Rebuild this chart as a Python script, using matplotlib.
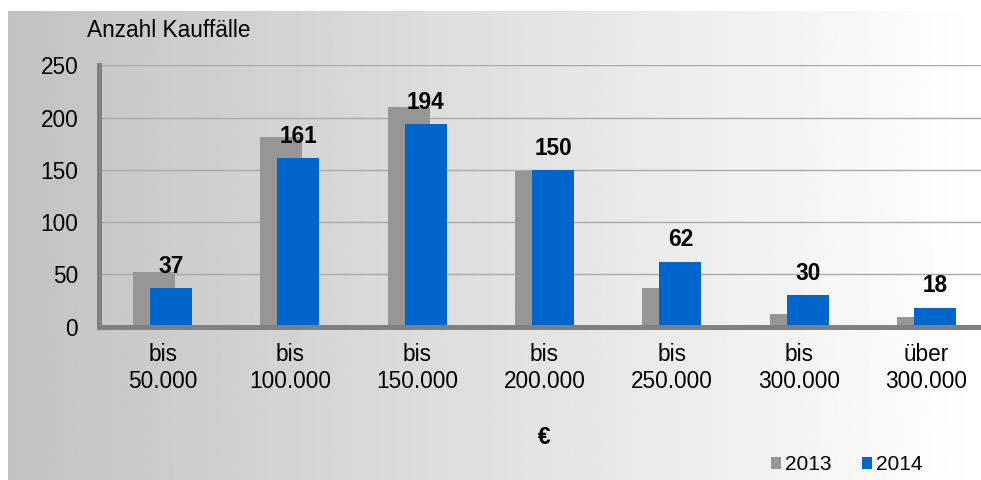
import numpy as np
import matplotlib
matplotlib.use("Agg")
import matplotlib.pyplot as plt
from matplotlib.patches import Patch

categories = ["bis\n50.000", "bis\n100.000", "bis\n150.000", "bis\n200.000",
              "bis\n250.000", "bis\n300.000", "über\n300.000"]
values_2013 = [52, 181, 210, 149, 37, 12, 9]
values_2014 = [37, 161, 194, 150, 62, 30, 18]
series_names = ["2013", "2014"]
yticks = [0, 50, 100, 150, 200, 250]

plt.rcParams['font.family'] = ['Liberation Sans', 'DejaVu Sans']

W, H = 981, 480
fig = plt.figure(figsize=(W / 100, H / 100), dpi=100)
fig.patch.set_facecolor("white")

# gradient background
bg = fig.add_axes([8 / W, 0, (W - 8) / W, (H - 11) / H], zorder=-10)
grad = np.linspace(0.76, 1.0, 512)[None, :]
bg.imshow(grad, cmap="gray", vmin=0, vmax=1, aspect="auto", extent=[0, 1, 0, 1])
bg.set_axis_off()

ax_left = 99 / W
ax_right = 1.0
ax_bottom = (H - 326.5) / H
ax_top = (H - 65.3) / H
ax = fig.add_axes([ax_left, ax_bottom, ax_right - ax_left, ax_top - ax_bottom])
ax.set_facecolor("none")

x = np.arange(len(categories))
span = (W - 99) / 127.3
ax.set_xlim(-0.5, -0.5 + span)
ax.set_ylim(0, 250)

bw = 0.33
off = 0.067
b13 = ax.bar(x - off, values_2013, width=bw, color="#969696", zorder=2, label=series_names[0])
b14 = ax.bar(x + off, values_2014, width=bw, color="#0066cc", zorder=3, label=series_names[1])

for xi, v in zip(x, values_2014):
    ax.annotate(str(v), (xi + off, v), xytext=(0, 11), textcoords="offset points",
                ha="center", va="baseline", fontsize=16.3, fontweight="bold", color="black",
                zorder=5)

ax.set_yticks(yticks)
ax.set_yticklabels([str(t) for t in yticks])
ax.set_xticks(x)
ax.set_xticklabels(categories, linespacing=1.2)
ax.tick_params(axis="y", length=0, pad=15, labelsize=16.3, labelcolor="black")
ax.tick_params(axis="x", length=0, pad=12, labelsize=16.3, labelcolor="black")

ax.yaxis.grid(True, color="#aaaaaa", linewidth=1)
ax.set_axisbelow(True)

for s in ["top", "right"]:
    ax.spines[s].set_visible(False)
for s in ["left", "bottom"]:
    ax.spines[s].set_color("#808080")
    ax.spines[s].set_linewidth(3.6)
    ax.spines[s].set_zorder(4)

fig.text(87 / W, 1 - 37 / H, "Anzahl Kauffälle", fontsize=16.3, ha="left", va="baseline")
fig.text(544 / W, 1 - 438 / H, "€", fontsize=16.3, fontweight="bold", ha="center", va="center")

handles = [Patch(facecolor="#969696"), Patch(facecolor="#0066cc")]
fig.legend(handles, series_names, loc="center left", bbox_to_anchor=(771 / W, 1 - 465 / H),
           ncol=2, frameon=False, fontsize=15, handlelength=0.48, handleheight=0.5,
           handletextpad=0.2, columnspacing=1.45, borderpad=0, borderaxespad=0)

fig.savefig("out.png", dpi=100)
